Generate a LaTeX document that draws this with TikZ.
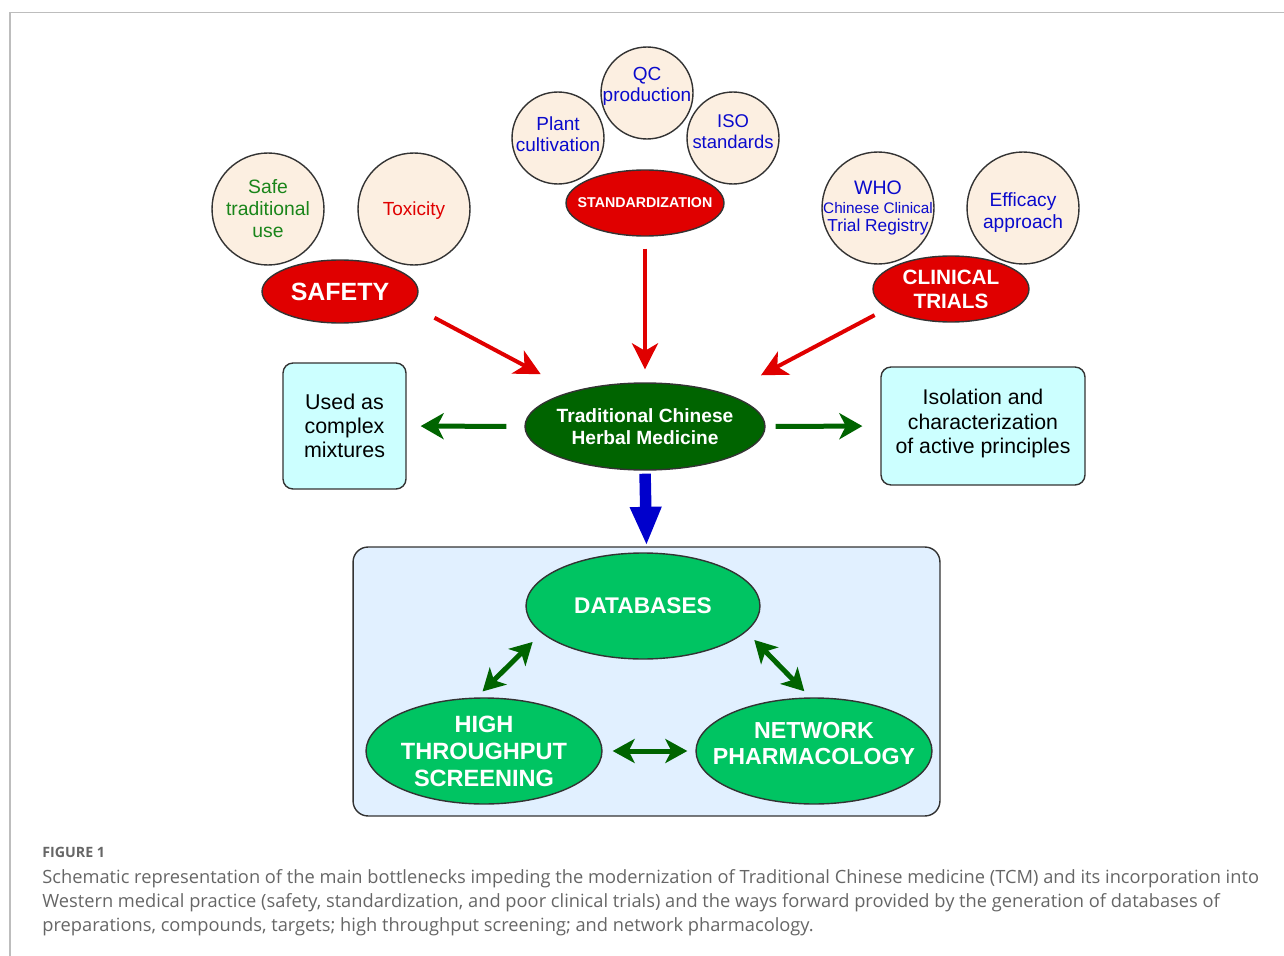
\documentclass[tikz,border=0pt]{standalone}
\usepackage{fontspec}
\setmainfont{Liberation Sans}
\newfontfamily\capfont{Open Sans}
\usetikzlibrary{shapes.geometric,arrows.meta}
\definecolor{cream}{HTML}{FCEFE1}
\definecolor{edgegray}{HTML}{333333}
\definecolor{bigred}{HTML}{E00000}
\definecolor{txtgreen}{HTML}{1A851A}
\definecolor{txtblue}{HTML}{0A0ACC}
\definecolor{darkgreen}{HTML}{006400}
\definecolor{litegreen}{HTML}{00C462}
\definecolor{cyanbox}{HTML}{CCFFFF}
\definecolor{bluebox}{HTML}{E1F0FF}
\definecolor{arrowblue}{HTML}{0000CC}
\definecolor{framegray}{HTML}{BDBDBD}
\definecolor{capgray}{HTML}{666666}
\tikzset{
  circ/.style={circle, draw=edgegray, fill=cream, line width=0.028cm, minimum size=#1, inner sep=-0.25cm, align=center},
  ell/.style={ellipse, draw=edgegray, line width=0.028cm, inner xsep=-1.2cm, inner ysep=-0.3cm, align=center, text=white, font=\bfseries},
  redell/.style={ell, fill=bigred},
  grell/.style={ell, fill=litegreen},
  cbox/.style={rectangle, rounded corners=0.2cm, draw=edgegray, fill=cyanbox, line width=0.028cm, align=center},
  redarrow/.style={draw=bigred, line width=0.08cm, -{Stealth[length=0.52cm, width=0.52cm, inset=0.15cm]}},
  grarrow/.style={draw=darkgreen, line width=0.1cm, -{Stealth[length=0.46cm, width=0.52cm, inset=0.13cm]}},
  dblarrow/.style={draw=darkgreen, line width=0.1cm, {Stealth[length=0.44cm, width=0.48cm, inset=0.12cm]}-{Stealth[length=0.44cm, width=0.48cm, inset=0.12cm]}},
  captxt/.style={anchor=base west, inner sep=0, text=capgray, font=\capfont\fontsize{10.4}{12}\selectfont},
}
\begin{document}
\begin{tikzpicture}[x=0.02cm,y=-0.02cm]
\useasboundingbox (0,0) rectangle (1284,956);
\draw[framegray, line width=0.024cm] (10,956) -- (10,12.5) -- (1284,12.5);

% --- SAFETY group
\node[circ=2.24cm, text=txtgreen, font=\fontsize{11}{12.5}\selectfont] (safe) at (268,209) {Safe\\traditional\\use};
\node[circ=2.24cm, text=bigred, font=\fontsize{10.8}{12.5}\selectfont] (tox) at (414,209) {\rule{0pt}{0.34cm}Toxicity};
\node[redell, minimum width=3.12cm, minimum height=1.26cm, font=\bfseries\fontsize{14.2}{16}\selectfont] (safety) at (340,291.5) {SAFETY};

% --- STANDARDIZATION group
\node[circ=1.84cm, text=txtblue, font=\fontsize{10.8}{11.95}\selectfont] (qc) at (647,93) {QC\\production\rule[-0.36cm]{0pt}{0pt}};
\node[circ=1.84cm, text=txtblue, font=\fontsize{10.8}{11.95}\selectfont] (plant) at (558,138) {Plant\\cultivation\rule[-0.17cm]{0pt}{0pt}};
\node[circ=1.84cm, text=txtblue, font=\fontsize{10.5}{11.95}\selectfont] (iso) at (733,138) {ISO\\standards\rule[-0.25cm]{0pt}{0pt}};
\node[redell, minimum width=3.16cm, minimum height=1.32cm, font=\bfseries\fontsize{8.1}{10}\selectfont] (std) at (645,203) {STANDARDIZATION};

% --- CLINICAL TRIALS group
\node[circ=2.24cm, text=txtblue, font=\fontsize{10}{10.8}\selectfont] (who) at (878,208) {{\fontsize{11.1}{10.8}\selectfont WHO}\\{\fontsize{8.7}{10.8}\selectfont Chinese Clinical}\\{\fontsize{9.85}{10.8}\selectfont Trial Registry}};
\node[circ=2.24cm, text=txtblue, font=\fontsize{10.9}{12.5}\selectfont] (eff) at (1023,208) {\rule{0pt}{0.46cm}Efficacy\\approach};
\node[redell, minimum width=3.12cm, minimum height=1.32cm, font=\bfseries\fontsize{11.8}{13.7}\selectfont] (clin) at (951,289) {CLINICAL\\TRIALS};

% --- centre
\node[ell, fill=darkgreen, minimum width=4.8cm, minimum height=1.74cm, font=\bfseries\fontsize{10.9}{12.5}\selectfont] (tchm) at (645,426.5) {Traditional Chinese\\Herbal Medicine};
\node[cbox, minimum width=2.46cm, minimum height=2.52cm, font=\fontsize{12.2}{13.7}\selectfont] (mix) at (344.5,426) {Used as\\complex\\mixtures};
\node[cbox, minimum width=4.08cm, minimum height=2.36cm, font=\fontsize{12.1}{13.9}\selectfont] (iso2) at (983,426) {Isolation and\\characterization\\of active principles\rule[-0.18cm]{0pt}{0pt}};

% --- bottom panel
\node[rectangle, rounded corners=0.3cm, draw=edgegray, fill=bluebox, line width=0.028cm, minimum width=11.74cm, minimum height=5.38cm] (panel) at (646.5,681.5) {};
\node[grell, minimum width=4.68cm, minimum height=2.12cm, font=\bfseries\fontsize{12.9}{15}\selectfont] (db) at (643,606) {DATABASES};
\node[grell, minimum width=4.72cm, minimum height=2.12cm, font=\bfseries\fontsize{13.4}{15.4}\selectfont] (hts) at (484,751) {HIGH\\THROUGHPUT\\SCREENING};
\node[grell, minimum width=4.72cm, minimum height=2.12cm, font=\bfseries\fontsize{13.2}{14.8}\selectfont] (np) at (814,751) {NETWORK\\PHARMACOLOGY\rule[-0.3cm]{0pt}{0pt}};

% --- arrows
\draw[redarrow, shorten <=0.53cm, shorten >=0.72cm] (safety.-11.4) -- (tchm.154.8);
\draw[redarrow, shorten <=0.24cm, shorten >=0.26cm] (std.south) -- (tchm.north);
\draw[redarrow, shorten <=0.28cm, shorten >=0.79cm] (clin.197.3) -- (tchm.22.1);
\draw[grarrow, shorten <=0.36cm, shorten >=0.28cm] (tchm.west) -- (mix.east);
\draw[grarrow, shorten <=0.2cm, shorten >=0.36cm] (tchm.east) -- (iso2.west);
\draw[draw=arrowblue, line width=0.23cm, -{Triangle[length=0.78cm, width=0.58cm]}, shorten <=0.06cm, shorten >=0.01cm] (tchm.south) -- (panel.north);
\draw[dblarrow, shorten <=0.25cm, shorten >=0.17cm] (db.195) -- (hts.98.6);
\draw[dblarrow, shorten <=0.23cm, shorten >=0.17cm] (db.-14.9) -- (np.94.1);
\draw[dblarrow, shorten <=0.2cm, shorten >=0.16cm] (hts.east) -- (np.west);

% --- caption
\node[captxt, font=\capfont\bfseries\fontsize{8.1}{9}\selectfont] (fig) at (42,857) {FIGURE 1};
\node[captxt] (cap1) at (42,883) {Schematic representation of the main bottlenecks impeding the modernization of Traditional Chinese medicine (TCM) and its incorporation into};
\node[captxt] (cap2) at (42,907) {Western medical practice (safety, standardization, and poor clinical trials) and the ways forward provided by the generation of databases of};
\node[captxt] (cap3) at (42,931) {preparations, compounds, targets; high throughput screening; and network pharmacology.};
\end{tikzpicture}
\end{document}
